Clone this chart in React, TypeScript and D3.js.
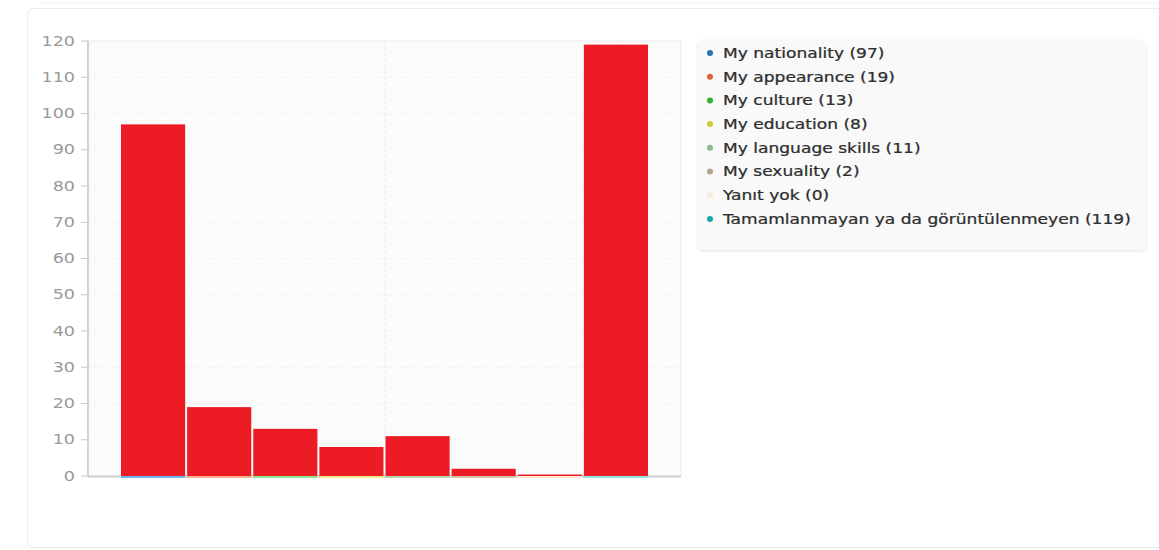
import React from "react";
import * as d3 from "d3";

const categories = [
  "My nationality",
  "My appearance",
  "My culture",
  "My education",
  "My language skills",
  "My sexuality",
  "Yanıt yok",
  "Tamamlanmayan ya da görüntülenmeyen",
];
const values = [97, 19, 13, 8, 11, 2, 0, 119];
const baseColors = ["#6fb6ea", "#f7b08f", "#8ee88e", "#f2ea8a", "#b6d6b0", "#dcc4a0", "#fbe8d4", "#8ee6e6"];
const dotColors = ["#2b73ae", "#d9623c", "#33b233", "#cccc33", "#8db88d", "#b5a58a", "#f7ecdc", "#1aa6a6"];
const yTicks = [0, 10, 20, 30, 40, 50, 60, 70, 80, 90, 100, 110, 120];

export default function App() {
  const W = 1159, H = 550;
  const plotL = 88, plotR = 681, plotT = 41, plotB = 476;
  const y = d3.scaleLinear().domain([0, 120]).range([plotB, plotT]);
  const x = d3.scaleBand<string>().domain(categories).range([121, 648]).paddingInner(0.03).paddingOuter(0);
  const font = "'DejaVu Sans', sans-serif";
  return (
    <svg width={W} height={H} style={{ position: "absolute", left: 0, top: 0, background: "#fff" }}>
      <defs>
        <filter id="sh" x="-5%" y="-5%" width="110%" height="120%">
          <feDropShadow dx="0" dy="1" stdDeviation="1.5" floodColor="#000" floodOpacity="0.12" />
        </filter>
      </defs>
      <line x1={40} x2={1159} y1={3} y2={3} stroke="#f0f0f0" />
      <rect x={27.5} y={8.5} width={1140} height={539} rx={5} fill="#fff" stroke="#ececec" />
      {/* plot area */}
      <rect x={plotL} y={plotT} width={plotR - plotL} height={plotB - plotT} fill="#fbfbfb" stroke="#ececec" />
      <line x1={385} x2={385} y1={plotT} y2={plotB} stroke="#eaeaea" strokeDasharray="3,3" />
      {yTicks.map((t) => (
        <g key={t}>
          {t > 0 && <line x1={plotL} x2={plotR} y1={y(t)} y2={y(t)} stroke="#f0f0f0" strokeDasharray="3,3" />}
          <line x1={81} x2={plotL} y1={y(t)} y2={y(t)} stroke="#c8c8c8" />
          <g transform={`translate(75,${y(t)}) scale(1.3,1)`}>
            <text x={0} y={0} dy="0.35em" textAnchor="end" fontFamily={font} fontSize={13.5} fill="#9a9a9a">
              {t}
            </text>
          </g>
        </g>
      ))}
      <line x1={plotL} x2={plotL} y1={plotT} y2={plotB} stroke="#c8c8c8" strokeWidth={1.5} />
      <line x1={plotL} x2={plotR} y1={plotB + 0.5} y2={plotB + 0.5} stroke="#cfcfcf" strokeWidth={2} />
      {categories.map((c, i) => {
        const bx = x(c)!;
        const bw = x.bandwidth();
        const yy = y(values[i]);
        const h = Math.max(plotB - yy, 1.5);
        return (
          <g key={c}>
            <rect x={bx} y={plotB - h} width={bw} height={h} fill="#ed1c24" />
            <rect x={bx} y={plotB} width={bw} height={2} fill={baseColors[i]} />
          </g>
        );
      })}
      {/* legend */}
      <rect x={698} y={40} width={448} height={210} rx={5} fill="#f9f9f9" filter="url(#sh)" />
      {categories.map((c, i) => {
        const ly = 53 + i * 23.7;
        return (
          <g key={c}>
            <circle cx={710} cy={ly} r={3} fill={dotColors[i]} />
            <g transform={`translate(723,${ly}) scale(1.22,1)`}>
              <text x={0} y={0} dy="0.35em" fontFamily={font} fontSize={14} fill="#2e2e2e" stroke="#2e2e2e" strokeWidth={0.25}>
                {`${c} (${values[i]})`}
              </text>
            </g>
          </g>
        );
      })}
    </svg>
  );
}
